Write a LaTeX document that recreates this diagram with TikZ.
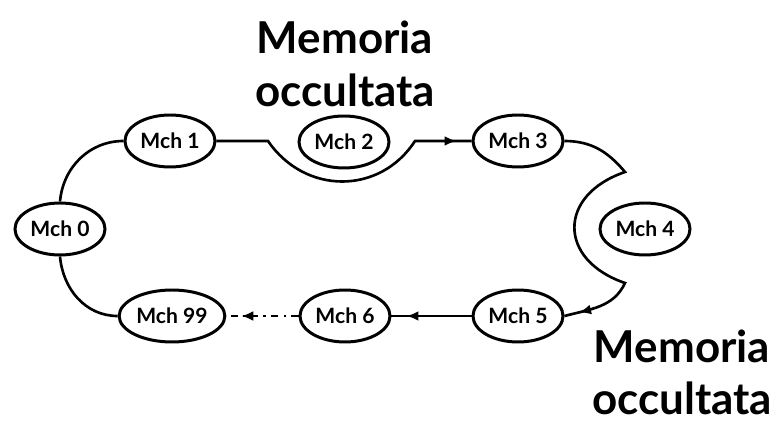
\documentclass[tikz,border=0pt]{standalone}
\usepackage{fontspec}
\setmainfont{Lato}
\usetikzlibrary{shapes.geometric,arrows.meta,decorations.markings}

\begin{document}
\begin{tikzpicture}[line width=1.5pt,
		mch/.style={ellipse, draw, line width=1.7pt, minimum width=1.8cm, minimum height=1.04cm, inner sep=1pt, font=\bfseries\fontsize{12}{12}\selectfont},
		memo/.style={align=center, font=\bfseries\fontsize{25}{30}\selectfont},
		midtip/.style={postaction={decorate, decoration={markings, mark=at position -3mm with {\arrow{Latex[length=2.4mm,width=2mm]}}}}}]
		\useasboundingbox (0,0) rectangle (15.56,8.4);
		
		\node[mch] (M0) at (1.2,3.82) {Mch 0};
		\node[mch] (M1) at (3.4,5.58) {Mch 1};
		\node[mch] (M2) at (6.88,5.56) {Mch 2};
		\node[mch] (M3) at (10.36,5.58) {Mch 3};
		\node[mch] (M4) at (12.9,3.82) {Mch 4};
		\node[mch] (M5) at (10.36,2.08) {Mch 5};
		\node[mch] (M6) at (6.9,2.08) {Mch 6};
		\node[mch] (M99) at (3.44,2.08) {Mch 99};
		
		\node[memo] (memtop) at (6.9,7.12) {Memoria\\occultata};
		\node[memo] (membot) at (13.64,0.95) {Memoria\\occultata};
		
		\coordinate (dipL) at (5.36,5.58);
		\coordinate (dipR) at (8.3,5.58);
		\coordinate (cuspT) at (12.5,4.96);
		\coordinate (cuspB) at (12.5,2.74);
		
		\draw (M0.north) to[out=85,in=180] (M1.west);
		\draw[midtip] (M1.east) -- (dipL) .. controls (6.1,4.5) and (7.6,4.5) .. (dipR) -- (M3.west);
		\draw[midtip] (M3.east) to[out=0,in=130] (cuspT) .. controls (11.15,4.5) and (11.15,3.2) .. (cuspB) to[out=-115,in=15] (M5.east);
		\draw[midtip] (M5.west) -- (M6.east);
		\draw[midtip, dash pattern=on 4pt off 3pt on 1.5pt off 3pt] (M6.west) -- (M99.east);
		\draw (M0.south) to[out=-85,in=180] (M99.west);
		
	\end{tikzpicture}
\end{document}
